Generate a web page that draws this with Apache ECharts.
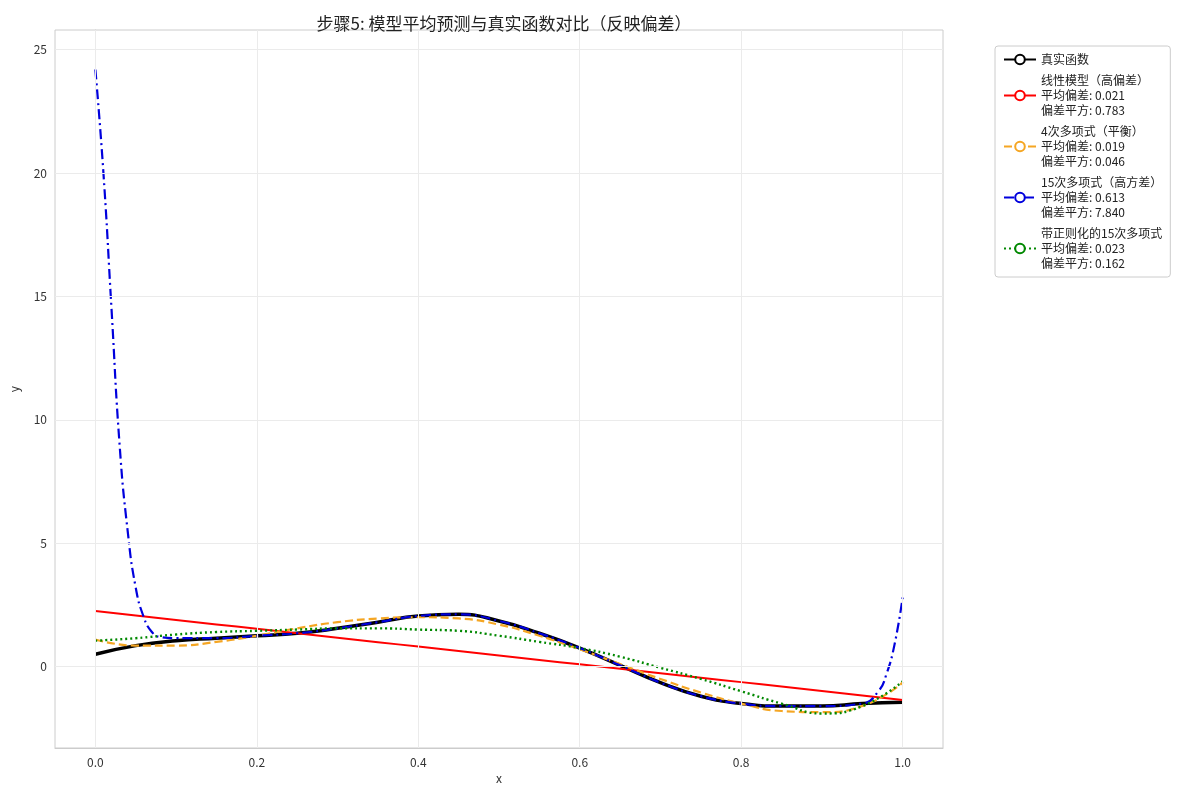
<!DOCTYPE html>
<html>
<head>
<meta charset="utf-8">
<script src="https://cdn.jsdelivr.net/npm/echarts@6/dist/echarts.min.js"></script>
<style>body{margin:0}#main{width:1200px;height:800px}</style>
</head>
<body>
<div id="main"></div>
<script>
var xs = [0, 0.05, 0.1, 0.15, 0.2, 0.25, 0.3, 0.35, 0.4, 0.45, 0.5, 0.55, 0.6, 0.65, 0.7, 0.75, 0.8, 0.85, 0.9, 0.95, 1.0];
var trueY = [0.5, 0.85, 1.05, 1.15, 1.25, 1.35, 1.55, 1.8, 2.05, 2.12, 1.85, 1.35, 0.75, 0.05, -0.65, -1.2, -1.5, -1.6, -1.6, -1.5, -1.45];
var linearY = [2.25, 2.07, 1.89, 1.71, 1.53, 1.35, 1.17, 0.99, 0.81, 0.63, 0.45, 0.27, 0.09, -0.09, -0.27, -0.45, -0.63, -0.81, -0.99, -1.17, -1.35];
var poly4Y = [1.1, 0.85, 0.85, 1.0, 1.25, 1.55, 1.8, 1.95, 2.0, 1.95, 1.7, 1.25, 0.7, 0.1, -0.5, -1.05, -1.5, -1.8, -1.85, -1.6, -0.65];
var ridgeY = [1.05, 1.15, 1.3, 1.4, 1.45, 1.5, 1.55, 1.55, 1.5, 1.45, 1.25, 1.0, 0.75, 0.4, -0.05, -0.5, -1.0, -1.5, -1.9, -1.6, -0.6];
var poly15X = [0, 0.01, 0.02, 0.03, 0.04, 0.05, 0.06, 0.07, 0.08, 0.1, 0.15, 0.2, 0.25, 0.3, 0.35, 0.4, 0.45, 0.5, 0.55, 0.6, 0.65, 0.7, 0.75, 0.8, 0.85, 0.9, 0.95, 0.97, 0.98, 0.99, 1.0];
var poly15Y = [24.2, 20, 14.5, 9, 5.5, 3.2, 2.0, 1.4, 1.2, 1.15, 1.15, 1.25, 1.35, 1.55, 1.8, 2.05, 2.12, 1.85, 1.35, 0.75, 0.05, -0.65, -1.2, -1.5, -1.6, -1.6, -1.5, -1.0, -0.3, 0.9, 2.8];
var xTicks = [0, 0.2, 0.4, 0.6, 0.8, 1.0];
var yTicks = [0, 5, 10, 15, 20, 25];
var names = ['真实函数', '线性模型（高偏差）\n平均偏差: 0.021\n偏差平方: 0.783', '4次多项式（平衡）\n平均偏差: 0.019\n偏差平方: 0.046',
  '15次多项式（高方差）\n平均偏差: 0.613\n偏差平方: 7.840', '带正则化的15次多项式\n平均偏差: 0.023\n偏差平方: 0.162'];

function pairs(x, y) { return x.map(function(v, i) { return [v, y[i]]; }); }
function mk(name, x, y, color, width, type) {
  return { name: name, type: 'line', data: pairs(x, y), smooth: true, showSymbol: false, z: 3,
    lineStyle: { color: color, width: width, type: type }, itemStyle: { color: color } };
}
var font = '"Noto Sans CJK SC", sans-serif';
var gridLines = xTicks.map(function(v) { return { xAxis: v }; }).concat(yTicks.map(function(v) { return { yAxis: v }; }));
var series = [
  mk(names[0], xs, trueY, '#000', 3.5, 'solid'),
  mk(names[1], xs, linearY, '#f00', 2, 'solid'),
  mk(names[2], xs, poly4Y, '#f5a623', 2.2, [8, 4]),
  mk(names[3], poly15X, poly15Y, '#00d', 2.2, [10, 4, 2, 4]),
  mk(names[4], xs, ridgeY, '#080', 2.4, [2, 3])
];
series.push({ type: 'line', data: [], silent: true, z: 1,
  markLine: { silent: true, symbol: 'none', label: { show: false }, animation: false,
    lineStyle: { color: '#ebebeb', type: 'solid', width: 1 }, data: gridLines } });

var chart = echarts.init(document.getElementById('main'));
chart.setOption({
  animation: false,
  textStyle: { fontFamily: font },
  title: { text: '步骤5: 模型平均预测与真实函数对比（反映偏差）', left: 499, top: 10, textAlign: 'center',
    textStyle: { fontSize: 17, fontWeight: 'normal', color: '#222', fontFamily: font } },
  legend: { orient: 'vertical', left: 995, top: 46, itemWidth: 32, itemHeight: 12, itemGap: 6,
    borderColor: '#ccc', borderWidth: 1, borderRadius: 3, padding: [6, 8],
    textStyle: { fontSize: 12, lineHeight: 15, color: '#222', fontFamily: font },
    data: names },
  grid: { left: 55, right: 257, top: 30, bottom: 52, show: true, borderColor: '#ccc', borderWidth: 1 },
  xAxis: { type: 'value', min: -0.05, max: 1.05, name: 'x', nameLocation: 'middle', nameGap: 22,
    nameTextStyle: { color: '#333' },
    axisLine: { onZero: false, lineStyle: { color: '#ccc' } }, axisTick: { show: false },
    axisLabel: { color: '#333', customValues: xTicks, formatter: function(v) { return v.toFixed(1); } },
    splitLine: { show: false } },
  yAxis: { type: 'value', min: -3.3, max: 25.8, name: 'y', nameLocation: 'middle', nameGap: 35,
    nameTextStyle: { color: '#333' },
    axisLine: { show: true, lineStyle: { color: '#ccc' } }, axisTick: { show: false },
    axisLabel: { color: '#333', customValues: yTicks },
    splitLine: { show: false } },
  series: series
});
</script>
</body>
</html>
